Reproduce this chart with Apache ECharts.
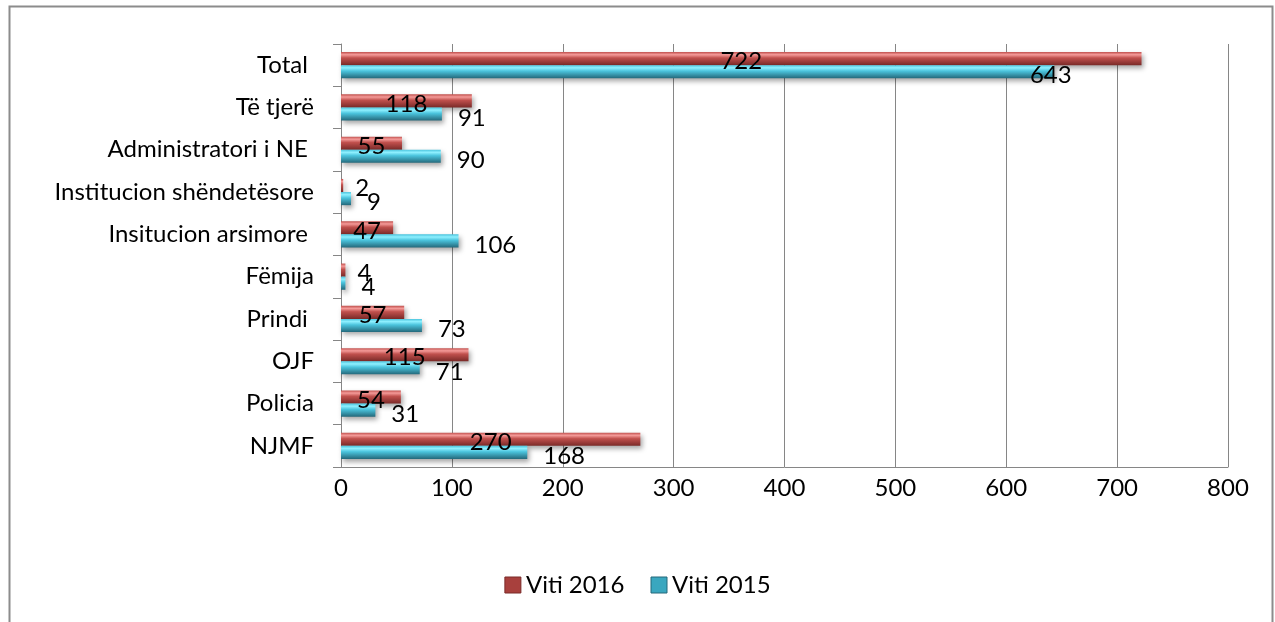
<!DOCTYPE html>
<html>
<head>
<meta charset="utf-8">
<script src="https://cdn.jsdelivr.net/npm/echarts@6/dist/echarts.min.js"></script>
<style>
  html, body { margin: 0; padding: 0; background: #fff; }
  #chart { width: 1275px; height: 622px; }
</style>
</head>
<body>
<div id="chart"></div>
<script>
// kategoritë (nga poshtë lart)
var categories = ['NJMF', 'Policia', 'OJF', 'Prindi ', 'Fëmija', 'Insitucion arsimore ', 'Institucion shëndetësore', 'Administratori i NE ', 'Të tjerë', 'Total '];
var viti2016 = [270, 54, 115, 57, 4, 47, 2, 55, 118, 722];
var viti2015 = [168, 31, 71, 73, 4, 106, 9, 90, 91, 643];
var xTicks = { min: 0, max: 800, interval: 100 };

var FONT = 'Lato';
var FS = 24;

function grad(light, mid, dark) {
    return new echarts.graphic.LinearGradient(0, 0, 0, 1, [
        { offset: 0, color: mid },
        { offset: 0.2, color: light },
        { offset: 0.45, color: mid },
        { offset: 1, color: dark }
    ]);
}

// etiketat e vlerave të vogla dalin djathtas
var redData = viti2016.map(function (v) {
    if (v < 10) return { value: v, label: { position: 'right', distance: 12 } };
    return v;
});
var blueData = viti2015.map(function (v, i) {
    if (i === categories.length - 1) return { value: v, label: { distance: -24 } };
    return v;
});

var myChart = echarts.init(document.getElementById('chart'));

var option = {
    animation: false,
    textStyle: { fontFamily: FONT },
    graphic: [{
        type: 'rect',
        shape: { x: 9.5, y: 6.5, width: 1263, height: 700 },
        style: { fill: 'none', stroke: '#8c8c8c', lineWidth: 2 },
        silent: true
    }],
    legend: {
        data: [
            { name: 'Viti 2016', itemStyle: { color: '#a8403d', borderColor: '#7a2a28', borderWidth: 1, shadowBlur: 0, shadowOffsetX: 0, shadowOffsetY: 0 } },
            { name: 'Viti 2015', itemStyle: { color: '#3aa7bf', borderColor: '#24687a', borderWidth: 1, shadowBlur: 0, shadowOffsetX: 0, shadowOffsetY: 0 } }
        ],
        bottom: 20,
        left: 'center',
        itemWidth: 16,
        itemHeight: 16,
        itemGap: 26,
        icon: 'rect',
        textStyle: { fontFamily: FONT, fontSize: FS, color: '#000' }
    },
    grid: { left: 341, right: 47, top: 44, bottom: 155 },
    xAxis: {
        type: 'value',
        min: xTicks.min,
        max: xTicks.max,
        interval: xTicks.interval,
        axisLine: { show: true, lineStyle: { color: '#868686' } },
        axisTick: { show: false },
        splitLine: { show: true, lineStyle: { color: '#868686', width: 1 } },
        axisLabel: { color: '#000', fontSize: FS, fontFamily: FONT, margin: 9 }
    },
    yAxis: {
        type: 'category',
        data: categories,
        axisLine: { show: true, lineStyle: { color: '#868686' } },
        axisTick: { show: true, length: 8, lineStyle: { color: '#868686' } },
        axisLabel: { color: '#000', fontSize: FS, fontFamily: FONT, margin: 27 }
    },
    series: [{
        name: 'Viti 2016',
        type: 'bar',
        data: redData,
        barGap: '0%',
        barCategoryGap: '38%',
        itemStyle: {
            color: grad('#f49a98', '#c0504d', '#7a2a28'),
            shadowColor: 'rgba(0,0,0,0.35)',
            shadowBlur: 5,
            shadowOffsetY: 3,
            shadowOffsetX: 2
        },
        label: {
            show: true,
            position: 'inside',
            offset: [0, 3],
            color: '#000',
            fontSize: FS,
            fontFamily: FONT
        }
    }, {
        name: 'Viti 2015',
        type: 'bar',
        data: blueData,
        barGap: '0%',
        barCategoryGap: '38%',
        itemStyle: {
            color: grad('#8ff0ff', '#4bc4dd', '#24687a'),
            shadowColor: 'rgba(0,0,0,0.35)',
            shadowBlur: 5,
            shadowOffsetY: 3,
            shadowOffsetX: 2
        },
        label: {
            show: true,
            position: 'right',
            distance: 16,
            offset: [0, 4],
            color: '#000',
            fontSize: FS,
            fontFamily: FONT
        }
    }]
};

myChart.setOption(option);
</script>
</body>
</html>
